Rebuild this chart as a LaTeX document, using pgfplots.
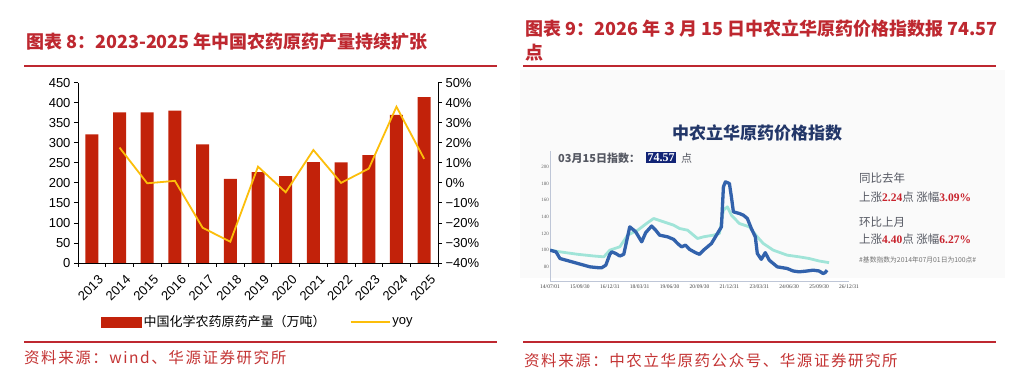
\documentclass[border=0pt]{standalone}
\usepackage{fontspec}
\setmainfont{Liberation Sans}
\newfontfamily\cjk{Noto Sans CJK SC}
\newfontfamily\cjksrc[LetterSpace=10]{Noto Sans CJK SC}
\usepackage{pgfplots}
\pgfplotsset{compat=1.18}
\definecolor{barred}{RGB}{194,34,10}
\definecolor{yoyc}{RGB}{252,190,10}
\definecolor{titlered}{RGB}{190,40,48}
\definecolor{srcred}{RGB}{196,52,52}
\definecolor{darkline}{RGB}{50,98,172}
\definecolor{tealline}{RGB}{160,228,216}
\definecolor{navy}{RGB}{18,36,118}
\definecolor{axgray}{RGB}{190,198,215}
\definecolor{txtgray}{RGB}{85,88,98}
\definecolor{numred}{RGB}{200,35,45}
\definecolor{charttitle}{RGB}{35,55,105}

\begin{document}
\begin{tikzpicture}[x=1pt,y=1pt]
\useasboundingbox (0,0) rectangle (1010,378);
\fill[white] (0,0) rectangle (1010,378);
\fill[black!2] (520,100) rectangle (1005,308);

% ---- titles and rules
\node[anchor=west, inner sep=0, text=titlered, font=\cjk\bfseries\fontsize{18}{22}\selectfont] at (26,336) {图表 8：2023-2025 年中国农药原药产量持续扩张};
\node[anchor=west, inner sep=0, text=titlered, font=\cjk\bfseries\fontsize{18}{22}\selectfont] at (525,349) {图表 9：2026 年 3 月 15 日中农立华原药价格指数报 74.57};
\node[anchor=west, inner sep=0, text=titlered, font=\cjk\bfseries\fontsize{18}{22}\selectfont] at (525,325) {点};
\draw[titlered, line width=1.6pt] (24,312) -- (497,312);
\draw[titlered, line width=1.6pt] (523,312) -- (996,312);
\draw[titlered, line width=1.4pt] (24,36) -- (497,36);
\draw[titlered, line width=1.4pt] (523,36) -- (996,36);
\node[anchor=west, inner sep=0, text=srcred, font=\cjksrc\fontsize{15.5}{18}\selectfont] at (24,20) {资料来源：wind、华源证券研究所};
\node[anchor=west, inner sep=0, text=srcred, font=\cjksrc\fontsize{15.5}{18}\selectfont] at (524,17) {资料来源：中农立华原药公众号、华源证券研究所};

% ---- left chart: bars
\begin{axis}[
  at={(78pt,115pt)}, anchor=south west, scale only axis,
  width=360pt, height=180.3pt,
  xmin=-0.5, xmax=12.5, ymin=0, ymax=450,
  axis x line*=bottom, axis y line*=left,
  axis line style={black, line width=0.9pt},
  ytick={0,50,...,450},
  xtick={-0.5,0.5,...,12.5},
  x tick label as interval,
  xticklabels={2013,2014,2015,2016,2017,2018,2019,2020,2021,2022,2023,2024,2025},
  xticklabel style={rotate=45, anchor=north east, inner sep=1pt, yshift=-8pt, font=\fontsize{13}{15}\selectfont},
  yticklabel style={font=\fontsize{13}{15}\selectfont},
  tick align=outside, major tick length=4pt,
  tick style={black, line width=0.8pt},
  /pgf/number format/assume math mode=true,
]
\addplot[ybar, bar width=13pt, fill=barred, draw=none] coordinates {
 (0,321) (1,376) (2,376) (3,380) (4,296) (5,210) (6,227) (7,217) (8,252) (9,251) (10,269) (11,370) (12,414)};
\end{axis}

% ---- left chart: yoy
\begin{axis}[
  at={(78pt,115pt)}, anchor=south west, scale only axis,
  width=360pt, height=180.3pt,
  xmin=-0.5, xmax=12.5, ymin=-40, ymax=50,
  axis y line*=right, axis x line=none,
  axis line style={black, line width=0.9pt},
  ytick={-40,-30,...,50},
  yticklabels={−40\%,−30\%,−20\%,−10\%,0\%,10\%,20\%,30\%,40\%,50\%},
  yticklabel style={font=\fontsize{13}{15}\selectfont},
  tick align=outside, major tick length=4pt,
  tick style={black, line width=0.8pt},
  legend style={at={(0.5,-0.327)}, anchor=center, draw=none, fill=none,
    font=\cjk\fontsize{13}{15}\selectfont, legend columns=2,
    /tikz/every even column/.append style={column sep=22pt}},
]
\addlegendimage{legend image code/.code={\fill[barred] (0pt,-5pt) rectangle (40pt,5pt);}}
\addlegendentry{中国化学农药原药产量（万吨）}
\addplot[yoyc, line width=1.8pt,
  legend image code/.code={\draw[yoyc, line width=1.8pt] (0pt,0pt) -- (39pt,0pt);}] coordinates {
 (1,17.6) (2,-0.2) (3,1) (4,-22.4) (5,-29.4) (6,8.1) (7,-4.7) (8,16.4) (9,0) (10,7.1) (11,38) (12,12)};
\addlegendentry{\fontspec{Liberation Sans}yoy}
\end{axis}

% ---- right chart (price index)
\node[text=charttitle, font=\cjk\bfseries\fontsize{17}{20}\selectfont] at (757,245) {中农立华原药价格指数};
\node[anchor=west, inner sep=0, text=txtgray, font=\cjk\bfseries\fontsize{11}{13}\selectfont] at (558,220) {03月15日指数：};
\node[anchor=west, inner sep=1.5pt, fill=navy, text=white, font=\fontspec{Liberation Serif}\bfseries\fontsize{12}{14}\selectfont] at (646,220.5) {74.57};
\node[anchor=west, inner sep=0, text=txtgray, font=\cjk\fontsize{11}{13}\selectfont] at (681,220) {点};

\begin{axis}[
  at={(550pt,97pt)}, anchor=south west, scale only axis,
  width=299pt, height=130pt,
  xmin=0, xmax=150, ymin=63, ymax=219,
  axis lines=left,
  axis line style={axgray, line width=0.8pt, -},
  xtick={0,15,...,150},
  xticklabels={14/07/01,15/09/30,16/12/31,18/03/31,19/06/30,20/09/30,21/12/31,23/03/31,24/06/30,25/09/30,26/12/31},
  ytick={80,100,...,200},
  major tick length=0pt,
  xticklabel style={font=\fontspec{Liberation Serif}\fontsize{5.5}{6}\selectfont, text=black!75, inner sep=1pt, yshift=-2.5pt},
  yticklabel style={font=\fontspec{Liberation Serif}\fontsize{5}{6}\selectfont, text=black!60, inner sep=1pt},
  /pgf/number format/assume math mode=true,
]
\addplot[tealline, line width=2.8pt, line join=round] coordinates {
 (0,100) (5,98) (14,95) (22,93) (27,92) (30,100) (35,104) (39,118) (44,124) (49,133) (52,138) (57,134) (62,130) (65,126) (69,124) (74,114) (77,116) (82,118) (85,120) (87,148) (89,152) (91,142) (95,132) (100,128) (104,116) (107,108) (112,100) (119,94) (125,92) (130,90) (135,87) (140,85)};
\addplot[darkline, line width=3.3pt, line join=round] coordinates {
 (0,100) (3,98) (5,90) (8,88) (11,86) (14,84) (17,82) (20,80) (24,79) (26,79) (28,82) (30,95) (31,98) (33,96) (35,93) (37,95) (40,128) (43,122) (46,110) (48,121) (51,129) (53,124) (55,118) (59,116) (62,113) (64,108) (66,104) (68,106) (70,101) (73,97) (75,95) (77,100) (79,104) (81,108) (83,116) (85,124) (86,128) (87,176) (88,182) (90,180) (91,164) (92,146) (95,144) (97,142) (99,138) (101,126) (103,116) (104,96) (106,89) (108,97) (110,88) (112,84) (114,80) (119,78) (122,75) (125,74) (129,75) (132,76) (135,75) (137,72) (138,73) (139,76)};
\end{axis}

% right side notes
\node[anchor=west, inner sep=0, text=txtgray, font=\cjk\fontsize{11.5}{13}\selectfont] at (859,200) {同比去年};
\node[anchor=west, inner sep=0, text=txtgray, font=\cjk\fontsize{11.5}{13}\selectfont] at (859,181) {上涨{\color{numred}\fontspec{Liberation Serif}\bfseries 2.24}点 涨幅{\color{numred}\fontspec{Liberation Serif}\bfseries 3.09\%}};
\node[anchor=west, inner sep=0, text=txtgray, font=\cjk\fontsize{11.5}{13}\selectfont] at (859,156) {环比上月};
\node[anchor=west, inner sep=0, text=txtgray, font=\cjk\fontsize{11.5}{13}\selectfont] at (859,139) {上涨{\color{numred}\fontspec{Liberation Serif}\bfseries 4.40}点 涨幅{\color{numred}\fontspec{Liberation Serif}\bfseries 6.27\%}};
\node[anchor=west, inner sep=0, text=black!55, font=\cjk\fontsize{6.8}{8}\selectfont] at (859,118) {\#基数指数为2014年07月01日为100点\#};
\end{tikzpicture}
\end{document}
